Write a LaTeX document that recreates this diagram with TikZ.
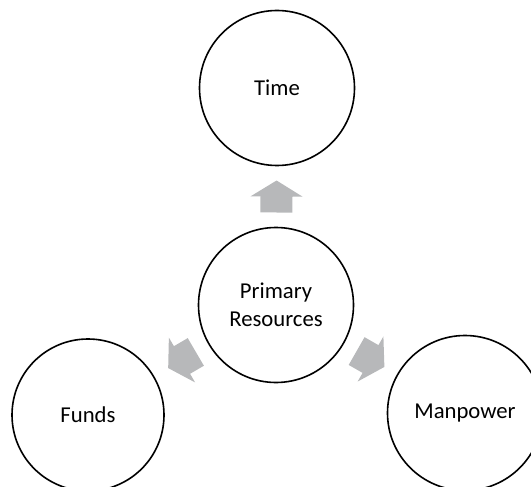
\documentclass[tikz,border=0pt]{standalone}
\usepackage{fontspec}
\setmainfont{Carlito}
\usetikzlibrary{calc}
\definecolor{arrowgrey}{RGB}{183,184,186}
\tikzset{
  res/.style={circle, draw=black, line width=1.6pt, inner sep=0pt,
    minimum size=155pt, align=center,
    font=\fontsize{22.7}{28}\selectfont},
  pics/blockarrow/.style={code={
    \fill[arrowgrey] (-16,-16) -- (0,-16) -- (0,-26) -- (16,0)
      -- (0,26) -- (0,16) -- (-16,16) -- cycle;}}
}
\begin{document}
\begin{tikzpicture}[x=1pt,y=1pt]
  \useasboundingbox (0,0) rectangle (531,-487);
  \clip (0,0) rectangle (531,-487);
  % the central resource and the three it is made of
  \node[res] (prim) at (276,-305) {Primary\\Resources};
  \node[res] (time) at (277,-88) {Time};
  \node[res, minimum size=152pt] (funds) at (88,-415) {Funds};
  \node[res] (man) at (465,-413) {Manpower};
  % block arrows halfway between the centre and each resource
  \foreach \t in {time,funds,man}{
    \path let \p1=($(\t)-(prim)$), \n1={atan2(\y1,\x1)} in
      ($(prim)!0.5!(\t)$) pic[rotate=\n1] {blockarrow};
  }
\end{tikzpicture}
\end{document}
